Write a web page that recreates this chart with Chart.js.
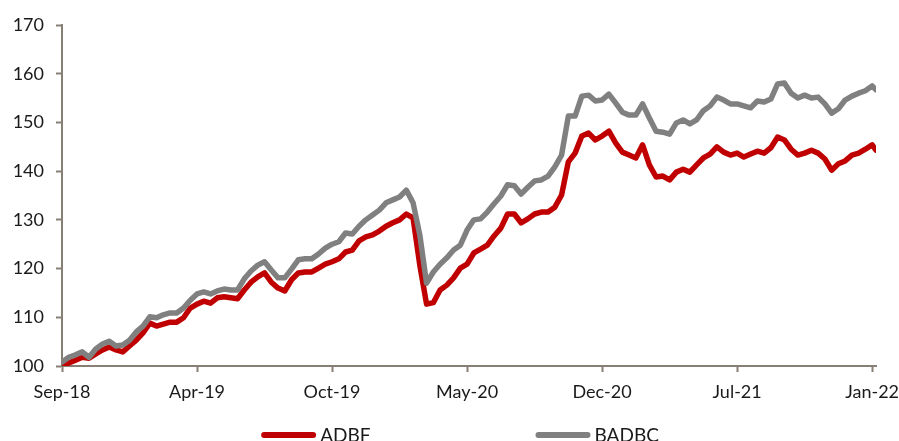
<!DOCTYPE html>
<html>
<head>
<meta charset="utf-8">
<title>ADBF vs BADBC</title>
<script src="https://cdn.jsdelivr.net/npm/chart.js@4.4.1/dist/chart.umd.min.js"></script>
<style>
  html, body { margin: 0; padding: 0; background: #ffffff; }
  #wrap { position: relative; width: 899px; height: 441px; }
</style>
</head>
<body>
<div id="wrap"><canvas id="chart"></canvas></div>
<script>
// Tick labels on the date axis, one every TICK_STEP trading sessions
const tickLabels = ['Sep-18', 'Apr-19', 'Oct-19', 'May-20', 'Dec-20', 'Jul-21', 'Jan-22'];
const TICK_STEP = 140;
// Observations are stored every SAMPLE_STEP sessions; the last one is the final session
const SAMPLE_STEP = 7;
const LAST_SESSION = 844;

// Rebased index levels (start = 100)
const adbf = [
  100.0, 100.6, 101.2, 101.8, 101.6, 102.5, 103.3, 103.9, 103.3, 102.9,
  104.1, 105.3, 106.8, 108.8, 108.2, 108.6, 109.0, 109.0, 109.9, 111.9,
  112.7, 113.3, 112.9, 114.0, 114.2, 114.0, 113.8, 115.6, 117.2, 118.3,
  119.1, 117.2, 116.0, 115.4, 117.7, 119.1, 119.3, 119.3, 120.1, 120.9,
  121.4, 122.0, 123.4, 123.8, 125.7, 126.5, 126.9, 127.7, 128.7, 129.4,
  130.0, 131.2, 130.4, 120.7, 112.7, 113.0, 115.6, 116.6, 118.1, 120.1,
  120.9, 123.2, 124.0, 124.8, 126.7, 128.3, 131.2, 131.2, 129.4, 130.2,
  131.2, 131.6, 131.6, 132.6, 135.1, 141.9, 143.7, 147.2, 147.8, 146.4,
  147.2, 148.2, 145.8, 143.9, 143.3, 142.7, 145.4, 141.3, 138.8, 139.0,
  138.2, 139.8, 140.4, 139.8, 141.3, 142.7, 143.5, 145.0, 143.9, 143.3,
  143.7, 142.9, 143.5, 144.1, 143.7, 144.8, 147.0, 146.4, 144.5, 143.3,
  143.7, 144.3, 143.7, 142.5, 140.2, 141.5, 142.1, 143.3, 143.7, 144.5,
  145.4, 144.3
];
const badbc = [
  100.8, 101.8, 102.3, 102.9, 101.8, 103.5, 104.5, 105.1, 104.1, 104.3,
  105.3, 107.0, 108.2, 110.1, 109.9, 110.5, 110.9, 110.9, 111.9, 113.5,
  114.8, 115.2, 114.8, 115.4, 115.8, 115.6, 115.6, 117.9, 119.5, 120.7,
  121.4, 119.7, 118.1, 118.1, 119.9, 121.8, 122.0, 122.0, 123.0, 124.2,
  125.0, 125.5, 127.3, 127.1, 128.7, 130.0, 131.0, 132.0, 133.5, 134.1,
  134.7, 136.1, 133.5, 126.9, 117.0, 119.3, 120.9, 122.2, 123.8, 124.8,
  127.9, 130.0, 130.2, 131.6, 133.3, 134.9, 137.2, 137.0, 135.3, 136.7,
  138.0, 138.2, 139.0, 140.9, 143.3, 151.3, 151.3, 155.4, 155.6, 154.4,
  154.6, 155.8, 154.0, 152.1, 151.5, 151.5, 153.8, 150.9, 148.2, 148.0,
  147.6, 149.9, 150.5, 149.7, 150.5, 152.4, 153.4, 155.2, 154.6, 153.8,
  153.8, 153.4, 153.0, 154.4, 154.2, 154.8, 157.9, 158.1, 156.0, 155.0,
  155.6, 155.0, 155.2, 153.8, 151.9, 152.8, 154.6, 155.4, 156.0, 156.5,
  157.5, 156.7
];

const toPoints = values => values.map((v, i) => ({ x: Math.min(i * SAMPLE_STEP, LAST_SESSION), y: v }));

const AXIS_COLOR = '#877f74';
const TEXT_COLOR = '#1a1a1a';
const FONT_FAMILY = 'Lato, "Open Sans", sans-serif';

// Legend drawn as long rounded line samples below the axis
const bottomLegend = {
  id: 'bottomLegend',
  afterDraw(chart) {
    const ctx = chart.ctx;
    const area = chart.chartArea;
    const lineLen = 55, textGap = 4, itemGap = 165;
    ctx.save();
    ctx.font = '19px ' + FONT_FAMILY;
    const items = chart.data.datasets.map(ds => ({
      label: ds.label, color: ds.borderColor, w: ctx.measureText(ds.label).width
    }));
    const total = items.reduce((s, it) => s + lineLen + textGap + it.w, 0) + itemGap * (items.length - 1);
    let x = (area.left + area.right) / 2 - 9 - total / 2;
    const lineY = 435, baseY = 442;
    items.forEach(it => {
      ctx.strokeStyle = it.color;
      ctx.lineWidth = 6;
      ctx.lineCap = 'round';
      ctx.beginPath();
      ctx.moveTo(x + 3, lineY);
      ctx.lineTo(x + lineLen - 3, lineY);
      ctx.stroke();
      ctx.fillStyle = TEXT_COLOR;
      ctx.textBaseline = 'alphabetic';
      ctx.textAlign = 'left';
      ctx.fillText(it.label, x + lineLen + textGap, baseY);
      x += lineLen + textGap + it.w + itemGap;
    });
    ctx.restore();
  }
};

new Chart(document.getElementById('chart'), {
  type: 'line',
  data: {
    datasets: [
      {
        label: 'ADBF',
        data: toPoints(adbf),
        borderColor: '#c00000',
        borderWidth: 5.5,
        pointRadius: 0,
        tension: 0,
        borderJoinStyle: 'round',
        borderCapStyle: 'round',
        order: 1
      },
      {
        label: 'BADBC',
        data: toPoints(badbc),
        borderColor: '#808080',
        borderWidth: 5.5,
        pointRadius: 0,
        tension: 0,
        borderJoinStyle: 'round',
        borderCapStyle: 'round',
        order: 0
      }
    ]
  },
  options: {
    responsive: true,
    maintainAspectRatio: false,
    animation: false,
    layout: { padding: { left: 12, right: 23, top: 25, bottom: 30 } },
    plugins: {
      legend: { display: false },
      tooltip: { enabled: false }
    },
    scales: {
      x: {
        type: 'linear',
        min: 0,
        max: LAST_SESSION,
        afterBuildTicks: axis => {
          axis.ticks = tickLabels.map((_, i) => ({ value: i * TICK_STEP }));
        },
        afterFit: axis => {
          axis.height = 45;
          axis.paddingLeft = 0;
          axis.paddingRight = 0;
        },
        grid: { drawOnChartArea: false, drawTicks: true, tickLength: 6, tickColor: AXIS_COLOR, tickWidth: 2 },
        border: { color: AXIS_COLOR, width: 2 },
        ticks: {
          autoSkip: false,
          maxRotation: 0,
          padding: 9,
          color: TEXT_COLOR,
          font: { family: FONT_FAMILY, size: 18 },
          callback: value => tickLabels[Math.round(value / TICK_STEP)]
        }
      },
      y: {
        min: 100,
        max: 170,
        afterFit: axis => {
          axis.width = 50;
          axis.paddingTop = 0;
          axis.paddingBottom = 0;
        },
        grid: { drawOnChartArea: false, drawTicks: true, tickLength: 6, tickColor: AXIS_COLOR, tickWidth: 2 },
        border: { color: AXIS_COLOR, width: 2 },
        ticks: {
          stepSize: 10,
          padding: 12,
          color: TEXT_COLOR,
          font: { family: FONT_FAMILY, size: 18 }
        }
      }
    }
  },
  plugins: [bottomLegend]
});
</script>
</body>
</html>
